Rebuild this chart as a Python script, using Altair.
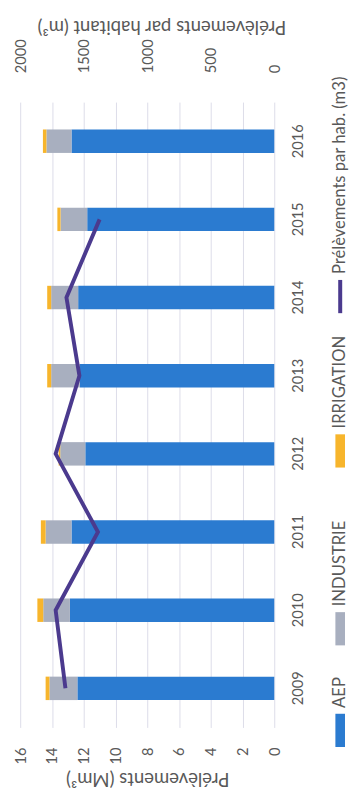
import altair as alt
import pandas as pd

# ---- data ----
years = ["2009", "2010", "2011", "2012", "2013", "2014", "2015", "2016"]
aep = [12.4, 12.87, 12.77, 11.9, 12.25, 12.35, 11.78, 12.77]
industrie = [1.76, 1.68, 1.63, 1.58, 1.8, 1.7, 1.68, 1.58]
irrigation = [0.24, 0.37, 0.3, 0.1, 0.25, 0.25, 0.2, 0.22]

per_hab_years = ["2009", "2010", "2011", "2012", "2013", "2014", "2015"]
per_hab = [1644, 1721, 1388, 1721, 1534, 1636, 1375]

categories = ["AEP", "INDUSTRIE", "IRRIGATION"]
line_label = "Prélèvements par hab. (m3)"
left_ticks = [0, 2, 4, 6, 8, 10, 12, 14, 16]
right_ticks = [0, 500, 1000, 1500, 2000]

# ---- styles ----
cat_colors = ["#2B7BD0", "#A8AFBF", "#F7B52C"]
line_color = "#4B3A8E"
text_color = "#595959"
grid_color = "#DCDCE8"
FONT = "Lato"

series = [aep, industrie, irrigation]
bar_rows = []
for ci, (cat, vals) in enumerate(zip(categories, series)):
    for y, v in zip(years, vals):
        bar_rows.append({"year": y, "category": cat, "value": v, "idx": ci})
bar_df = pd.DataFrame(bar_rows)

line_df = pd.DataFrame({"year": per_hab_years, "per_hab": per_hab,
                        "idx": list(range(len(per_hab_years)))})

y_dom = years[::-1]
y_axis = alt.Axis(orient="right", title=None, labelAngle=270,
                  labelAlign="center", labelBaseline="middle",
                  labelPadding=24, ticks=False, domain=False, grid=False,
                  labelFontSize=15, labelColor=text_color, labelFont=FONT)

bars = alt.Chart(bar_df).mark_bar(size=24).encode(
    y=alt.Y("year:N", scale=alt.Scale(domain=y_dom), axis=y_axis),
    x=alt.X("value:Q", stack="zero",
            scale=alt.Scale(domain=[0, 16], reverse=True, nice=False),
            axis=alt.Axis(orient="bottom", values=left_ticks, labelAngle=270,
                          labelAlign="right", labelBaseline="middle",
                          labelPadding=20, ticks=False, domain=False, grid=True,
                          gridColor=grid_color, labelFontSize=15,
                          labelColor=text_color, labelFont=FONT,
                          title="Prélèvements (Mm³)", titleAngle=180,
                          titleBaseline="middle", titleAlign="center",
                          titleY=52, titleFontSize=19, titleFontWeight="normal",
                          titleColor=text_color, titleFont=FONT)),
    color=alt.Color("category:N", scale=alt.Scale(domain=categories, range=cat_colors),
                    legend=None),
    order=alt.Order("idx:Q", sort="ascending"),
)

line = alt.Chart(line_df).mark_line(color=line_color, strokeWidth=4).encode(
    y=alt.Y("year:N", scale=alt.Scale(domain=y_dom), axis=y_axis),
    x=alt.X("per_hab:Q", scale=alt.Scale(domain=[0, 2000], reverse=True, nice=False),
            axis=alt.Axis(orient="top", values=right_ticks, format="d",
                          labelAngle=270,
                          labelAlign="left", labelBaseline="middle",
                          labelPadding=30, ticks=False, domain=False, grid=False,
                          labelFontSize=15, labelColor=text_color, labelFont=FONT,
                          title="Prélèvements par habitant (m³)", titleAngle=180,
                          titleBaseline="middle", titleAlign="center",
                          titleY=-78, titleX=144.5, titleFontSize=19,
                          titleFontWeight="normal", titleColor=text_color,
                          titleFont=FONT)),
    order=alt.Order("idx:Q"),
)

# ---- custom rotated legend ----
legend_labels = categories + [line_label]
legend_colors = cat_colors + [line_color]
legend_y = [643, 539, 357, 199]        # swatch centres, px from plot top
legend_x = 327.5                       # px from plot left
rect_path = "M-0.29,-1H0.29V1H-0.29Z"
line_path = "M-0.12,-1H0.12V1H-0.12Z"

legend_layers = []
for i, (lab, col, yy) in enumerate(zip(legend_labels, legend_colors, legend_y)):
    d = pd.DataFrame({"label": [lab]})
    shape = line_path if i == 3 else rect_path
    sw = alt.Chart(d).mark_point(shape=shape, size=34 * 34, filled=True,
                                 color=col, opacity=1, strokeWidth=0).encode(
        x=alt.value(legend_x), y=alt.value(yy))
    tx = alt.Chart(d).mark_text(angle=270, align="left", baseline="middle",
                                dx=23, fontSize=17, font=FONT,
                                color=text_color).encode(
        x=alt.value(legend_x), y=alt.value(yy), text="label:N")
    legend_layers += [sw, tx]

chart = alt.layer(bars, line, *legend_layers).resolve_scale(
    x="independent"
).properties(
    width=260, height=640,
    autosize=alt.AutoSizeParams(type="none"),
    padding={"left": 12.5, "top": 87, "right": 76.5, "bottom": 68},
    background="white",
).configure_view(stroke="transparent")

chart.save("out.html", embed_options={"renderer": "svg", "actions": False})
